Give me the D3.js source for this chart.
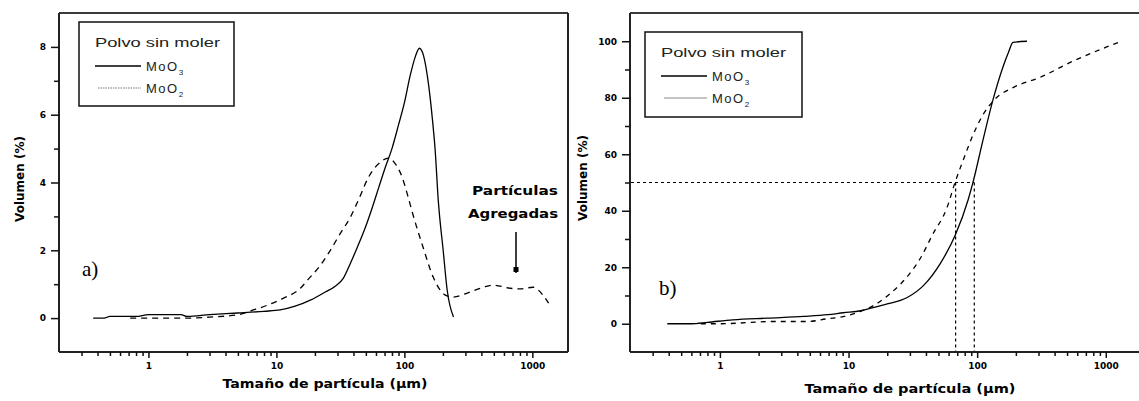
<!DOCTYPE html>
<html><head><meta charset="utf-8">
<script src="https://cdn.jsdelivr.net/npm/d3@7"></script>
<style>
body{margin:0;background:#fff;}
svg{display:block;}
text{font-family:"Liberation Sans",Arial,sans-serif;}
</style></head>
<body><svg id="c" width="1139" height="401"></svg>
<script>
// ---- Data ----
const xTickMajor = [1, 10, 100, 1000];
const xTickLabels = ["1", "10", "100", "1000"];
const yTicksA = [0, 2, 4, 6, 8];
const yMinorA = [1, 3, 5, 7];
const yTicksB = [0, 20, 40, 60, 80, 100];
const yMinorB = [10, 30, 50, 70, 90];

// Panel a: volumen (%) frecuencia
const aMoO3x = [0.37, 0.45, 0.5, 0.8, 1.0, 1.8, 2.0, 3.0, 5.0, 8.0, 10.7, 14, 18.4, 24.1, 29, 33.4, 37.9, 42.9, 49.6, 56, 63, 71, 80, 90, 100, 111, 122, 131, 141, 154, 165, 174, 184, 201, 216, 242];
const aMoO3y = [0, 0, 0.05, 0.05, 0.1, 0.1, 0.05, 0.1, 0.15, 0.2, 0.24, 0.35, 0.53, 0.77, 0.95, 1.18, 1.62, 2.09, 2.68, 3.25, 3.85, 4.45, 5.0, 5.7, 6.35, 7.15, 7.72, 7.96, 7.75, 6.93, 5.93, 4.96, 3.48, 2.0, 0.83, 0.03];
const aMoO2x = [0.72, 1, 2, 3, 5, 6.6, 8.5, 11.4, 15.4, 17.5, 22, 26.4, 31.6, 37.9, 43.7, 52.5, 65, 75, 85, 96, 107, 117, 140, 168, 209, 242, 311, 415, 498, 672, 805, 1010, 1210, 1340];
const aMoO2y = [0, 0, 0, 0.03, 0.1, 0.24, 0.38, 0.59, 0.88, 1.12, 1.55, 2.0, 2.5, 2.98, 3.48, 4.16, 4.6, 4.72, 4.55, 4.16, 3.57, 3.04, 2.09, 1.21, 0.68, 0.62, 0.74, 0.91, 0.97, 0.88, 0.86, 0.91, 0.68, 0.44];

// Panel b: volumen (%) acumulado
const bMoO3x = [0.39, 0.6, 0.8, 1.26, 2.35, 4.5, 6.9, 9.1, 12.4, 15.6, 20, 28.6, 38.2, 51.8, 67.5, 85, 93, 111, 133, 159, 175, 190, 244];
const bMoO3y = [0, 0, 0.5, 1.4, 2, 2.6, 3.2, 3.9, 4.6, 5.7, 7, 9.3, 13.5, 21.4, 31.3, 43.8, 50.2, 65, 79.4, 91, 96, 99.6, 100];
const bMoO2x = [0.71, 1, 2.6, 4.8, 6.9, 9.1, 12.4, 15.6, 21, 30.3, 36, 44.7, 58.5, 67.5, 78, 93, 111, 137, 190, 308, 553, 1006, 1320];
const bMoO2y = [0, 0, 0.8, 0.8, 1.8, 2.5, 4.4, 6.4, 10.6, 18.1, 23, 31.3, 41.3, 50.2, 58, 66.9, 74, 79.4, 83.6, 87.2, 92.9, 97.9, 100];
const d50 = 50;
const d50MoO2 = 68;
const d50MoO3 = 95;

const legendTitle = "Polvo sin moler";
const xTitle = "Tamaño de partícula (µm)";
const yTitle = "Volumen (%)";

// ---- Drawing ----
const svg = d3.select("#c");
const zip = (xs, ys) => xs.map((x, i) => [x, ys[i]]);

function minorTicks(lo, hi) {
  const out = [];
  for (let d = -1; d <= 3; d++) {
    for (let m = 2; m <= 9; m++) {
      const v = m * Math.pow(10, d);
      if (v > lo * 1.001 && v < hi * 0.999) out.push(v);
    }
  }
  return out;
}

function panel(cfg) {
  const g = svg.append("g");
  const x = d3.scaleLog().domain(cfg.xdom).range(cfg.xr);
  const y = d3.scaleLinear().domain(cfg.ydom).range([352, 13]);

  // frame top / right
  g.append("line").attr("x1", cfg.xr[0]).attr("x2", cfg.frameRight).attr("y1", 13).attr("y2", 13)
    .attr("stroke", "#3a3a3a").attr("stroke-width", 2);
  if (cfg.drawRight) {
    g.append("line").attr("x1", cfg.frameRight).attr("x2", cfg.frameRight).attr("y1", 13).attr("y2", 352)
      .attr("stroke", "#222").attr("stroke-width", 2);
  }

  // x axis
  const xa = g.append("g").attr("transform", "translate(0,352)");
  xa.call(d3.axisBottom(x).tickValues(xTickMajor).tickFormat((d, i) => xTickLabels[i]).tickSize(6).tickPadding(5));
  xa.append("g").call(d3.axisBottom(x).tickValues(minorTicks(cfg.xdom[0], cfg.xdom[1])).tickFormat("").tickSize(4))
    .select(".domain").remove();
  xa.select(".domain").attr("stroke", "#222").attr("stroke-width", 2).attr("d", `M${cfg.xr[0]},0H${cfg.frameRight}`);
  xa.selectAll(".tick line").attr("stroke", "#111").attr("stroke-width", 1.5);
  xa.selectAll(".tick text").attr("font-size", 9).attr("font-weight", "bold").attr("fill", "#000")
    .style("font-family", "'DejaVu Sans',sans-serif");

  // y axis
  const ya = g.append("g").attr("transform", `translate(${cfg.xr[0]},0)`);
  ya.call(d3.axisLeft(y).tickValues(cfg.yt).tickSize(8).tickPadding(5));
  ya.append("g").call(d3.axisLeft(y).tickValues(cfg.ym).tickFormat("").tickSize(5)).select(".domain").remove();
  ya.select(".domain").attr("stroke", "#222").attr("stroke-width", 2).attr("d", "M0,13V352");
  ya.selectAll(".tick line").attr("stroke", "#111").attr("stroke-width", 1.5);
  ya.selectAll(".tick text").attr("font-size", 9).attr("font-weight", "bold").attr("fill", "#000")
    .style("font-family", "'DejaVu Sans',sans-serif");

  // titles
  g.append("text").attr("x", cfg.xtX).attr("y", cfg.xtY).attr("text-anchor", "middle")
    .attr("font-size", 13).attr("font-weight", "bold").attr("textLength", cfg.xtW).attr("lengthAdjust", "spacingAndGlyphs")
    .style("font-family", "'DejaVu Sans',sans-serif").text(xTitle);
  g.append("text").attr("transform", `translate(${cfg.ytX},${cfg.ytY}) rotate(-90)`).attr("text-anchor", "middle")
    .attr("font-size", 12).attr("font-weight", "bold").attr("textLength", 86).attr("lengthAdjust", "spacingAndGlyphs")
    .style("font-family", "'DejaVu Sans',sans-serif").text(yTitle);

  const line = d3.line().x(d => x(d[0])).y(d => y(d[1])).curve(d3.curveMonotoneX);
  g.append("path").attr("d", line(cfg.s1)).attr("fill", "none").attr("stroke", "#000").attr("stroke-width", 1.3);
  g.append("path").attr("d", line(cfg.s2)).attr("fill", "none").attr("stroke", "#000").attr("stroke-width", 1.3)
    .attr("stroke-dasharray", cfg.dash);

  // panel letter
  g.append("text").attr("x", cfg.letX).attr("y", cfg.letY).attr("font-size", 21)
    .style("font-family", "'Liberation Serif','Times New Roman',serif").text(cfg.letter);

  // legend
  const L = cfg.leg;
  g.append("rect").attr("x", L.x).attr("y", L.y).attr("width", L.w).attr("height", L.h)
    .attr("fill", "#fff").attr("stroke", "#111").attr("stroke-width", 1.5);
  g.append("text").attr("x", L.x + 16).attr("y", L.y + 25).attr("font-size", 12).attr("fill", "#222")
    .attr("textLength", 125).attr("lengthAdjust", "spacingAndGlyphs").text(legendTitle);
  const rows = [{sub: "3", stroke: "#000", sw: 1.5, dash: null, x0: L.x + 16},
                {sub: "2", stroke: L.l2c, sw: L.l2w, dash: L.l2d, x0: L.x + 19}];
  rows.forEach((r, i) => {
    const yy = L.y + 44 + i * 22;
    g.append("line").attr("x1", r.x0).attr("x2", L.x + 62).attr("y1", yy).attr("y2", yy)
      .attr("stroke", r.stroke).attr("stroke-width", r.sw).attr("stroke-dasharray", r.dash);
    const t = g.append("text").attr("x", L.x + 67).attr("y", yy + 5).attr("font-size", 13).attr("fill", "#222")
      .attr("letter-spacing", 1.5);
    t.append("tspan").text("MoO");
    t.append("tspan").attr("font-size", 8).attr("dy", 4).text(r.sub);
  });
  return {g, x, y};
}

const A = panel({
  xdom: [0.2, 1900], xr: [59, 568], frameRight: 568, drawRight: true,
  ydom: [-1, 9], yt: yTicksA, ym: yMinorA,
  xtX: 325, xtY: 388, xtW: 205, ytX: 24, ytY: 179,
  s1: zip(aMoO3x, aMoO3y), s2: zip(aMoO2x, aMoO2y), dash: "6,5",
  letter: "a)", letX: 82, letY: 276,
  leg: {x: 79, y: 22, w: 155, h: 84, l2c: "#777", l2w: 1.2, l2d: "1.5,1"}
});

const B = panel({
  xdom: [0.2, 2000], xr: [630, 1144.5], frameRight: 1139, drawRight: false,
  ydom: [-10, 110], yt: yTicksB, ym: yMinorB,
  xtX: 910, xtY: 393, xtW: 211, ytX: 587, ytY: 178,
  s1: zip(bMoO3x, bMoO3y), s2: zip(bMoO2x, bMoO2y), dash: "5,5",
  letter: "b)", letX: 659, letY: 295,
  leg: {x: 645, y: 32, w: 157, h: 85, l2c: "#888", l2w: 1, l2d: null}
});

// d50 reference lines (panel b)
const refStyle = s => s.attr("stroke", "#000").attr("stroke-width", 1.2).attr("stroke-dasharray", "3,3");
refStyle(B.g.append("line").attr("x1", 631).attr("x2", B.x(d50MoO3)).attr("y1", B.y(d50)).attr("y2", B.y(d50)));
refStyle(B.g.append("line").attr("x1", B.x(d50MoO2)).attr("x2", B.x(d50MoO2)).attr("y1", B.y(d50)).attr("y2", 351));
refStyle(B.g.append("line").attr("x1", B.x(d50MoO3)).attr("x2", B.x(d50MoO3)).attr("y1", B.y(d50)).attr("y2", 351));

// annotation panel a
A.g.append("text").attr("x", 515).attr("y", 195).attr("text-anchor", "middle").attr("font-size", 12)
  .attr("font-weight", "bold").attr("textLength", 86).attr("lengthAdjust", "spacingAndGlyphs")
  .style("font-family", "'DejaVu Sans',sans-serif").text("Partículas");
A.g.append("text").attr("x", 513).attr("y", 218).attr("text-anchor", "middle").attr("font-size", 12)
  .attr("font-weight", "bold").attr("textLength", 90).attr("lengthAdjust", "spacingAndGlyphs")
  .style("font-family", "'DejaVu Sans',sans-serif").text("Agregadas");
A.g.append("line").attr("x1", 516).attr("x2", 516).attr("y1", 232).attr("y2", 273)
  .attr("stroke", "#000").attr("stroke-width", 1.5);
A.g.append("rect").attr("x", 513.5).attr("y", 267).attr("width", 5).attr("height", 5).attr("fill", "#000");
</script></body></html>
